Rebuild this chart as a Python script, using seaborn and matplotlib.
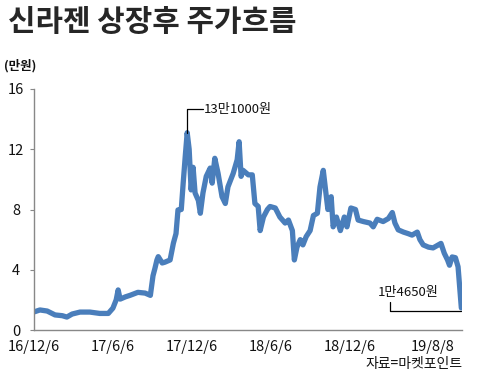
import matplotlib
matplotlib.use("Agg")
import matplotlib.pyplot as plt
import seaborn as sns
import pandas as pd

# trading-day index (0 = 2016-12-06) and closing price (만원)
day = [0, 9, 20, 32, 43, 50, 58, 70, 85, 100, 113, 120, 125, 128, 131, 139, 146,
       158, 169, 177, 181, 184, 187, 189, 195, 199, 207, 212, 216, 219, 224, 227,
       230, 233, 236, 239, 242, 245, 250, 253, 257, 262, 268, 271, 275, 280, 286,
       291, 295, 303, 309, 312, 315, 318, 326, 332, 336, 341, 344, 349, 355, 359,
       367, 374, 382, 387, 393, 396, 400, 405, 409, 414, 420, 425, 431, 435, 440,
       444, 447, 452, 455, 460, 466, 472, 476, 482, 489, 493, 501, 511, 516, 522,
       531, 539, 545, 549, 554, 562, 569, 575, 583, 587, 592, 600, 607, 615, 619,
       624, 629, 632, 636, 641, 645, 650]
price = [1.2, 1.33, 1.26, 1.0, 0.95, 0.86, 1.06, 1.19, 1.19, 1.1, 1.1, 1.45, 2.0,
         2.66, 2.05, 2.2, 2.3, 2.5, 2.45, 2.3, 3.6, 4.1, 4.65, 4.87, 4.45, 4.5,
         4.65, 5.76, 6.4, 7.97, 8.0, 9.8, 11.5, 13.1, 12.0, 9.3, 10.8, 9.1, 8.6,
         7.75, 9.1, 10.2, 10.75, 9.75, 11.4, 10.4, 8.85, 8.4, 9.5, 10.4, 11.3,
         12.5, 10.2, 10.6, 10.3, 10.3, 8.4, 8.2, 6.6, 7.5, 8.0, 8.2, 8.1, 7.5,
         7.1, 7.3, 6.6, 4.65, 5.5, 6.0, 5.65, 6.2, 6.6, 7.6, 7.75, 9.5, 10.6, 9.1,
         8.0, 8.85, 6.85, 7.5, 6.6, 7.5, 6.85, 8.1, 8.0, 7.3, 7.2, 7.1, 6.85, 7.35,
         7.2, 7.4, 7.8, 7.1, 6.65, 6.5, 6.4, 6.3, 6.5, 6.0, 5.65, 5.5, 5.45, 5.65,
         5.75, 5.1, 4.65, 4.3, 4.85, 4.8, 4.2, 1.465]

tick_days = [0, 120, 240, 360, 480, 607]
tick_labels = ["16/12/6", "17/6/6", "17/12/6", "18/6/6", "18/12/6", "19/8/8"]
y_ticks = [0, 4, 8, 12, 16]

title = "신라젠 상장후 주가흐름"
unit = "(만원)"
source = "자료=마켓포인트"
peak_label = "13만1000원"
last_label = "1만4650원"

sns.set_style("white")
plt.rcParams["font.family"] = ["Noto Sans CJK KR", "DejaVu Sans"]

df = pd.DataFrame({"day": day, "price": price})

fig = plt.figure(figsize=(4.84, 3.86), dpi=100)
ax = fig.add_axes([34 / 484, 1 - 330 / 386, (462 - 34) / 484, (330 - 89) / 386])

sns.lineplot(data=df, x="day", y="price", ax=ax, color="#4a7ebb", linewidth=3.8,
             solid_joinstyle="round", solid_capstyle="round")

ax.set_xlim(0, 651)
ax.set_ylim(0, 16)
ax.set_xlabel("")
ax.set_ylabel("")
ax.set_yticks(y_ticks)
ax.set_yticklabels([str(v) for v in y_ticks], fontsize=10.5, color="#111111", ha="center")
ax.set_xticks(tick_days)
ax.set_xticklabels(tick_labels, fontsize=10.5, color="#111111")
ax.tick_params(axis="y", length=3, width=0.8, color="#888888", pad=10, left=True)
ax.tick_params(axis="x", length=0, pad=7)
for s in ["top", "right"]:
    ax.spines[s].set_visible(False)
for s in ["left", "bottom"]:
    ax.spines[s].set_color("#888888")
    ax.spines[s].set_linewidth(1.0)

# annotations
pk = price.index(max(price))
ax.plot([day[pk], day[pk], 257], [price[pk], 14.67, 14.67], color="black", lw=0.9)
ax.text(259, 14.67, peak_label, fontsize=9.5, va="center", ha="left", color="#111111")
ax.plot([542, 542, day[-1]], [1.85, 1.28, 1.28], color="black", lw=0.9)
ax.text(569, 2.52, last_label, fontsize=9.5, va="center", ha="center", color="#111111")

fig.text(8 / 484, 1 - 22 / 386, title, fontsize=21.5, fontweight="bold", va="center", ha="left")
fig.text(4 / 484, 1 - 66 / 386, unit, fontsize=9, fontweight="bold", va="center", ha="left", color="#111111")
fig.text(462 / 484, 1 - 364 / 386, source, fontsize=10, fontweight="medium", va="center", ha="right", color="#111111")

fig.savefig("out.png", dpi=100)
